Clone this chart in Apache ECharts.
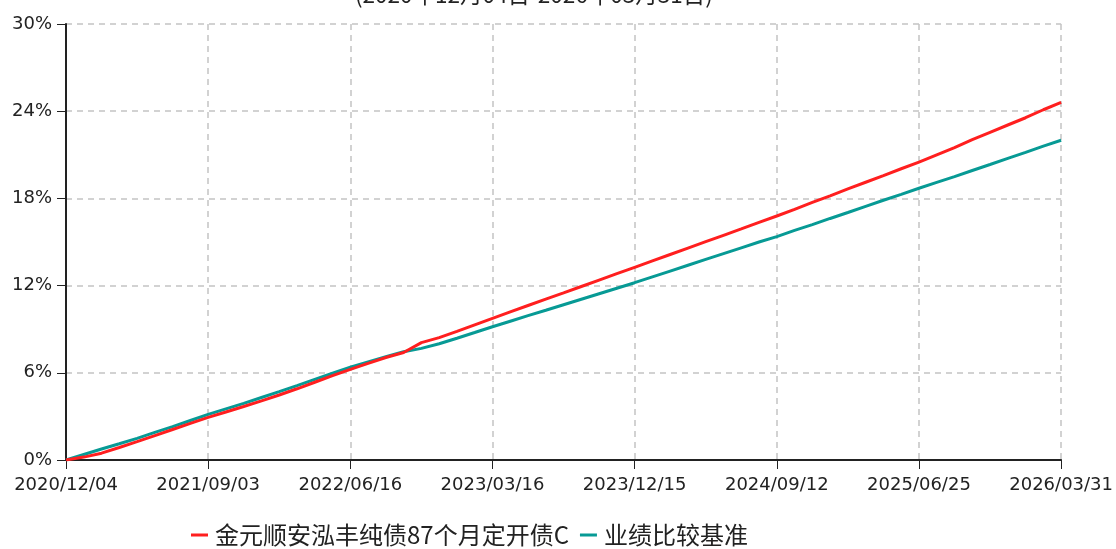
<!DOCTYPE html>
<html>
<head>
<meta charset="utf-8">
<script src="https://cdn.jsdelivr.net/npm/echarts@6/dist/echarts.min.js"></script>
<style>
html,body{margin:0;padding:0;background:#fff;}
#chart{width:1116px;height:549px;}
</style>
</head>
<body>
<div id="chart"></div>
<script>
var titleText = '(2020年12月04日-2026年03月31日)';
var seriesNames = ['金元顺安泓丰纯债87个月定开债C', '业绩比较基准'];
var dates = [
'2020/12/04','2021/01/07','2021/02/08','2021/03/17','2021/04/19','2021/05/24','2021/06/24','2021/07/29',
'2021/09/03','2021/10/15','2021/11/16','2021/12/17','2022/01/20','2022/02/28','2022/03/31','2022/05/09',
'2022/06/16','2022/07/19','2022/08/19','2022/09/21','2022/10/28','2022/11/29','2022/12/30','2023/02/08',
'2023/03/16','2023/04/18','2023/05/24','2023/06/27','2023/07/31','2023/08/30','2023/10/09','2023/11/09',
'2023/12/15','2024/01/17','2024/02/26','2024/03/27','2024/04/30','2024/06/05','2024/07/08','2024/08/08',
'2024/09/12','2024/10/22','2024/11/22','2024/12/25','2025/02/05','2025/03/12','2025/04/14','2025/05/20',
'2025/06/25','2025/07/28','2025/08/27','2025/10/09','2025/11/10','2025/12/11','2026/01/14','2026/02/24',
'2026/03/31'
];
var fundValues = [
0, 0.2, 0.47, 0.86, 1.26, 1.68, 2.1, 2.52,
2.93, 3.3, 3.68, 4.07, 4.47, 4.9, 5.35, 5.8,
6.24, 6.65, 7.05, 7.4, 8.08, 8.42, 8.85, 9.3,
9.75, 10.19, 10.63, 11.07, 11.5, 11.94, 12.38, 12.82,
13.26, 13.7, 14.14, 14.58, 15.02, 15.46, 15.9, 16.35,
16.79, 17.25, 17.72, 18.18, 18.65, 19.11, 19.57, 20.04,
20.5, 21.0, 21.5, 22.05, 22.55, 23.05, 23.55, 24.1,
24.6
];
var benchValues = [
0, 0.38, 0.76, 1.12, 1.49, 1.9, 2.3, 2.72,
3.14, 3.52, 3.9, 4.3, 4.7, 5.12, 5.55, 5.97,
6.38, 6.75, 7.1, 7.45, 7.68, 8.0, 8.38, 8.77,
9.17, 9.55, 9.93, 10.3, 10.68, 11.06, 11.44, 11.82,
12.2, 12.6, 13.0, 13.4, 13.8, 14.2, 14.6, 15.0,
15.37, 15.8, 16.2, 16.62, 17.03, 17.45, 17.87, 18.28,
18.7, 19.1, 19.5, 19.92, 20.33, 20.75, 21.17, 21.6,
22.0
];
var yTicks = [0, 6, 12, 18, 24, 30];

var baseFont = '"DejaVu Sans", "Noto Sans CJK SC", sans-serif';
var cjkFont = '"Noto Sans CJK SC", "DejaVu Sans", sans-serif';

var chart = echarts.init(document.getElementById('chart'), null, {renderer: 'canvas'});
chart.setOption({
  animation: false,
  backgroundColor: '#ffffff',
  title: {
    text: titleText,
    left: 350,
    top: -22,
    textStyle: {fontSize: 22.5, fontWeight: 'normal', color: '#222', fontFamily: cjkFont}
  },
  legend: {
    bottom: -3,
    left: 186,
    itemWidth: 17,
    itemHeight: 3,
    itemGap: 11,
    icon: 'rect',
    textStyle: {fontSize: 24, color: '#222', fontFamily: cjkFont, padding: [0, 0, 0, 2]},
    data: seriesNames
  },
  grid: {left: 66, right: 53, top: 24, bottom: 89, containLabel: false},
  xAxis: {
    type: 'category',
    data: dates,
    boundaryGap: false,
    axisLine: {lineStyle: {color: '#222', width: 2}},
    axisTick: {show: true, interval: 7, length: 9, lineStyle: {color: '#222'}},
    axisLabel: {interval: 7, fontSize: 18, color: '#222', fontFamily: baseFont, margin: 16},
    splitLine: {show: true, interval: 7, lineStyle: {color: '#c4c4c4', type: [6, 5], width: 1.5}}
  },
  yAxis: {
    type: 'value',
    min: yTicks[0],
    max: yTicks[yTicks.length - 1],
    interval: 6,
    axisLine: {show: true, lineStyle: {color: '#222', width: 2}},
    axisTick: {show: true, length: 9, lineStyle: {color: '#222'}},
    axisLabel: {formatter: '{value}%', fontSize: 18, color: '#222', fontFamily: baseFont, margin: 14},
    splitLine: {show: true, lineStyle: {color: '#c4c4c4', type: [6, 5], width: 1.5}}
  },
  series: [
    {
      name: seriesNames[0], type: 'line', data: fundValues, showSymbol: false, symbol: 'none',
      itemStyle: {color: '#ff1f1f'}, lineStyle: {color: '#ff1f1f', width: 3}, z: 3
    },
    {
      name: seriesNames[1], type: 'line', data: benchValues, showSymbol: false, symbol: 'none',
      itemStyle: {color: '#079a95'}, lineStyle: {color: '#079a95', width: 3}, z: 2
    }
  ]
});
</script>
</body>
</html>
